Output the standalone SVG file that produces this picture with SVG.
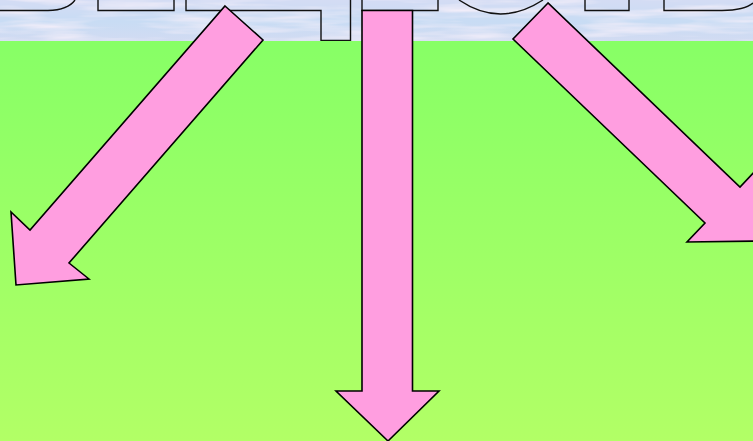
<svg xmlns="http://www.w3.org/2000/svg" width="753" height="441" viewBox="0 0 753 441">
  <defs>
    <linearGradient id="grass" x1="0" y1="0" x2="0" y2="1">
      <stop offset="0" stop-color="#87ff66"/>
      <stop offset="1" stop-color="#b2ff66"/>
    </linearGradient>
    <linearGradient id="skyBase" x1="0" y1="0" x2="0" y2="1">
      <stop offset="0" stop-color="#d4dcf4"/>
      <stop offset="0.5" stop-color="#c8dcf4"/>
      <stop offset="1" stop-color="#d2dbf2"/>
    </linearGradient>
    <filter id="streaks" x="0" y="0" width="100%" height="100%">
      <feTurbulence type="fractalNoise" baseFrequency="0.012 0.12" numOctaves="3" seed="7" result="n"/>
      <feColorMatrix in="n" type="matrix" values="0 0 0 0 0.88  0 0 0 0 0.85  0 0 0 0 0.95  0 0 0 2.2 -0.9" result="c"/>
      <feComposite in="c" in2="SourceGraphic" operator="in"/>
    </filter>
    <style>
      .arrow { fill: #ff9ee0; stroke: #000; stroke-width: 1.6; stroke-linejoin: miter; }
      .outline { fill: none; stroke: #111; stroke-width: 1.4; }
    </style>
  </defs>

  <!-- sky strip -->
  <g id="sky">
    <rect x="0" y="0" width="753" height="42" fill="url(#skyBase)"/>
    <rect x="0" y="0" width="753" height="42" fill="#fff" filter="url(#streaks)"/>
  </g>

  <!-- fragments of the cut-off title outline -->
  <g id="title-fragments" class="outline">
    <path d="M0,10.5 H48 Q68,10 75,0"/>
    <path d="M98,0 V10.5 H174 V0"/>
    <path d="M186,0 V10.5 H321 V40.5 H350.5 V0"/>
    <path d="M362,0 V10.5 H438 V0"/>
    <path d="M459,0 Q500,28 543,0"/>
    <path d="M585,0 V10.5 H629 V0"/>
    <path d="M664,0 V10.5 H722 Q745,10 753,3"/>
  </g>

  <!-- ground -->
  <rect id="ground" x="0" y="41" width="753" height="400" fill="url(#grass)"/>

  <g id="arrow-left">
    <polygon class="arrow" points="225,6 263,40 69,263 89,279 16,285 11,212 30,230"/>
  </g>
  <g id="arrow-middle">
    <polygon class="arrow" points="362,10.5 412.5,10.5 412.5,391 439,391 388,441 336,391 362,391"/>
  </g>
  <g id="arrow-right">
    <polygon class="arrow" points="548,3 513,39 705,223 687,242 760,241 758,168 740,187"/>
  </g>
</svg>
